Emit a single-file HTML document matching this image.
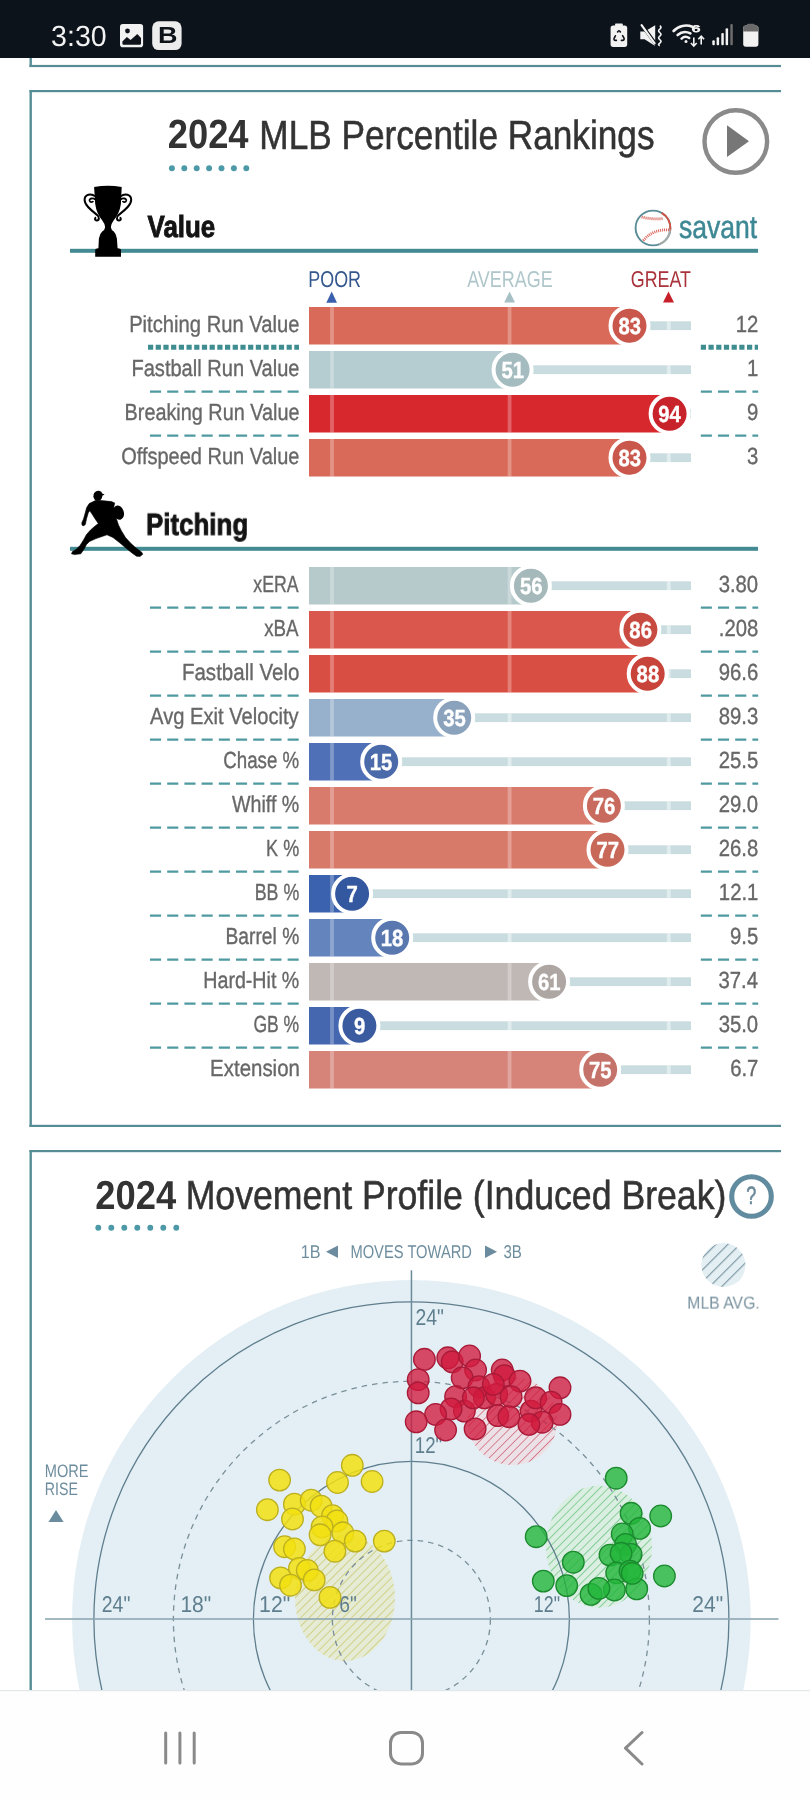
<!DOCTYPE html><html><head><meta charset="utf-8"><title>Percentile Rankings</title><style>html,body{margin:0;padding:0;background:#fff;width:810px;height:1800px;overflow:hidden}svg{position:absolute;left:0;top:0;display:block;text-rendering:geometricPrecision;will-change:transform}</style></head><body><svg width="810" height="1800" viewBox="0 0 810 1800" font-family="Liberation Sans, sans-serif"><rect x="0" y="0" width="810" height="58" fill="#0c131b"/>
<text transform="translate(51.11,45.70) scale(0.9813,1)" font-size="29.10" fill="#f2f2f2">3:30</text>
<rect x="120" y="23.9" width="23.1" height="23.3" rx="2.8" fill="#f2f2f2"/>
<circle cx="127.5" cy="31" r="2.4" fill="#0e131a"/>
<path d="M122.4,41.6 L126.9,37.1 L130.6,40.1 L137.3,34.1 L141,37.9 L141,43.4 Q141,44.7 139.8,44.7 L123.6,44.7 Q122.4,44.7 122.4,43.4 Z" fill="#0e131a"/>
<rect x="152.2" y="21.3" width="29.4" height="28.8" rx="6.5" fill="#ececec"/>
<text transform="translate(158.02,42.60) scale(1.1590,1)" font-size="23.30" fill="#0e131a" font-weight="bold">B</text>
<rect x="610.6" y="25.4" width="16.6" height="21.5" rx="2.6" fill="#f2f2f2"/>
<rect x="615" y="23.5" width="7.8" height="3" rx="1" fill="#f2f2f2"/>
<path d="M617.6,32 Q619,29.6 620.4,32 M622.6,35.6 L624,38 Q624.6,40.4 622.4,40.4 L621.4,40.4 M616.4,40.4 L615.6,40.4 Q613.4,40.4 614.2,38 L615.4,35.8" fill="none" stroke="#0e131a" stroke-width="1.6" stroke-linecap="round"/>
<path d="M640.3,31.4 L644.6,31.4 L655.2,25.2 L655.2,46.1 L644.6,39.2 L640.3,39.2 Z" fill="#f2f2f2"/>
<path d="M640.8,23.6 L657.6,46.5" stroke="#0e131a" stroke-width="3.4"/>
<path d="M641.6,25.2 L654.6,43.4" stroke="#f2f2f2" stroke-width="2.2" stroke-linecap="round"/>
<path d="M659.8,25.6 q2.4,1.7 0,3.5 q-2.4,1.7 0,3.5 q2.4,1.7 0,3.5 q-2.4,1.7 0,3.5 q2.4,1.7 0,3.5 q-2.4,1.7 0,2.5" fill="none" stroke="#f2f2f2" stroke-width="1.7"/>
<path d="M673.6,31 A17,17 0 0 1 692.4,26.8" fill="none" stroke="#f2f2f2" stroke-width="2.6" stroke-linecap="round"/>
<path d="M677.6,35 A11.5,11.5 0 0 1 690.4,33.4" fill="none" stroke="#f2f2f2" stroke-width="2.6" stroke-linecap="round"/>
<path d="M681.6,38.6 A6,6 0 0 1 689.2,38" fill="none" stroke="#f2f2f2" stroke-width="2.6" stroke-linecap="round"/>
<circle cx="686" cy="41.6" r="1.5" fill="#f2f2f2"/>
<text transform="translate(691.83,32.40) scale(1.5974,1)" font-size="9.60" fill="#f2f2f2" stroke="#f2f2f2" stroke-width="0.8">6</text>
<path d="M693.8,37.4 L693.8,45.8 M690.9,43 L693.8,46 L696.7,43" fill="none" stroke="#f2f2f2" stroke-width="1.6"/>
<path d="M701.2,44.4 L701.2,36.4 M698.3,39.2 L701.2,36.2 L704.1,39.2" fill="none" stroke="#f2f2f2" stroke-width="1.6"/>
<rect x="712.3" y="40.2" width="2.5" height="5.0" rx="1" fill="#f2f2f2"/>
<rect x="716.6" y="37.2" width="2.5" height="8.0" rx="1" fill="#f2f2f2"/>
<rect x="721.3" y="33" width="2.5" height="12.2" rx="1" fill="#f2f2f2"/>
<rect x="725.6" y="28.2" width="2.5" height="17.0" rx="1" fill="#f2f2f2"/>
<rect x="730.3" y="24" width="2.5" height="21.2" rx="1" fill="#6d6d6d"/>
<rect x="743.2" y="25.6" width="15.2" height="21.1" rx="2.6" fill="#f2f2f2"/>
<path d="M743.2,31.4 L743.2,28.2 Q743.2,25.6 745.8,25.6 L755.8,25.6 Q758.4,25.6 758.4,28.2 L758.4,31.4 Z" fill="#6a6a6a"/>
<rect x="747" y="23.8" width="7.6" height="2.4" rx="1" fill="#6a6a6a"/>
<rect x="29.5" y="58" width="2.4" height="9" fill="#568d95"/>
<rect x="29.5" y="64.9" width="751.5" height="2.2" fill="#568d95"/>
<rect x="29.5" y="90" width="751.5" height="2.2" fill="#568d95"/>
<rect x="29.5" y="90" width="2.4" height="1037" fill="#568d95"/>
<rect x="29.5" y="1124.8" width="751.5" height="2.2" fill="#568d95"/>
<rect x="29.5" y="1150" width="751.5" height="2.2" fill="#568d95"/>
<rect x="29.5" y="1150" width="2.4" height="560" fill="#568d95"/>
<text transform="translate(167.77,148.30) scale(0.8895,1)" font-size="40.80" fill="#333333" font-weight="bold">2024</text>
<text transform="translate(259.31,148.70) scale(0.8628,1)" font-size="40.80" fill="#333333" stroke="#333" stroke-width="0.55">MLB Percentile Rankings</text>
<circle cx="171.9" cy="168.2" r="2.95" fill="#4d99a8"/>
<circle cx="184.3" cy="168.2" r="2.95" fill="#4d99a8"/>
<circle cx="196.7" cy="168.2" r="2.95" fill="#4d99a8"/>
<circle cx="209.1" cy="168.2" r="2.95" fill="#4d99a8"/>
<circle cx="221.5" cy="168.2" r="2.95" fill="#4d99a8"/>
<circle cx="233.9" cy="168.2" r="2.95" fill="#4d99a8"/>
<circle cx="246.3" cy="168.2" r="2.95" fill="#4d99a8"/>
<circle cx="735.8" cy="141.5" r="31.3" fill="none" stroke="#8a8a8a" stroke-width="4.4"/>
<path d="M727,125.3 L749,141.2 L727,157 Z" fill="#777"/>
<rect x="70" y="248.8" width="688" height="4" fill="#438a92"/>
<path d="M94.1,187 Q108,184.6 121.7,187 L120.9,204 Q119.5,213.5 113.6,220.5 Q111.2,223.5 110.8,227.5 L105.2,227.5 Q104.8,223.5 102.3,220.5 Q96.5,213.5 95.2,204 Z" fill="#000"/>
<path d="M105.2,227 L110.8,227 Q111.2,230 113.8,231.6 Q116.4,234 116.9,238.5 L117.6,248.2 Q120.5,248.6 121,249.5 L121,256.7 L95.2,256.7 L95.2,249.5 Q95.6,248.6 98.4,248.2 L98.9,238.5 Q99.5,234 102.2,231.6 Q104.8,230 105.2,227 Z" fill="#000"/>
<path d="M95.2,196.2 C91.0,193 84.5,194.2 84.6,200 C84.8,205.5 91.5,210.5 97.2,215 C99.8,217.2 99.2,220.8 96.6,220.6 C94.6,220.4 94.4,218 96.2,217.6" fill="none" stroke="#000" stroke-width="2"/>
<path d="M95.3,199.5 C93.0,197.6 89.0,198.3 89.6,200.8 C90.2,202.6 92.6,202.4 93.2,201" fill="none" stroke="#000" stroke-width="1.8"/>
<path d="M120.6,196.2 C124.8,193 131.3,194.2 131.2,200 C131.0,205.5 124.3,210.5 118.6,215 C116.0,217.2 116.6,220.8 119.2,220.6 C121.2,220.4 121.4,218 119.6,217.6" fill="none" stroke="#000" stroke-width="2"/>
<path d="M120.5,199.5 C122.8,197.6 126.8,198.3 126.2,200.8 C125.6,202.6 123.2,202.4 122.6,201" fill="none" stroke="#000" stroke-width="1.8"/>
<text transform="translate(147.54,236.70) scale(0.8487,1)" font-size="30.50" fill="#141414" font-weight="bold" stroke="#141414" stroke-width="0.9">Value</text>
<circle cx="653" cy="228" r="17.4" fill="#fff" stroke="#5b8d97" stroke-width="1.9"/>
<path d="M661.7,212.9 A17.4,17.4 0 0 1 670.3,229.5" fill="none" stroke="#d2503f" stroke-width="2"/>
<path d="M670.3,229.5 A17.4,17.4 0 0 1 659,244.4" fill="none" stroke="#a6aaa9" stroke-width="2"/>
<path d="M641.6,217 Q652,219.6 662.6,218.6" fill="none" stroke="#dc6a62" stroke-width="2.8" stroke-dasharray="1.1,0.9"/>
<path d="M643.3,240.6 Q653,228.5 670.6,230" fill="none" stroke="#dc6a62" stroke-width="2.8" stroke-dasharray="1.1,0.9"/>
<text transform="translate(678.88,237.50) scale(0.8255,1)" font-size="32.20" fill="#3d8894" stroke="#3d8894" stroke-width="0.5">savant</text>
<text transform="translate(308.33,286.80) scale(0.7779,1)" font-size="23.00" fill="#34578e">POOR</text>
<text transform="translate(467.16,286.90) scale(0.7816,1)" font-size="23.00" fill="#afc6ca">AVERAGE</text>
<text transform="translate(630.81,286.90) scale(0.7765,1)" font-size="23.00" fill="#a9323b">GREAT</text>
<path d="M326.3,302.8 L337,302.8 L331.7,291.5 Z" fill="#3a5fae"/>
<path d="M504.2,302.6 L515,302.6 L509.6,291.5 Z" fill="#a6c0c6"/>
<path d="M663,302.6 L674,302.6 L668.5,291.5 Z" fill="#c8202a"/>
<rect x="309" y="307" width="320.5" height="37.5" fill="#d96958"/>
<rect x="629.5" y="321.3" width="61.5" height="8.8" fill="#c9dde0"/>
<rect x="330.1" y="307" width="3.8" height="37.5" fill="#fff" opacity="0.28"/>
<rect x="507.7" y="307" width="3.8" height="37.5" fill="#fff" opacity="0.28"/>
<rect x="666.9" y="321.3" width="3.8" height="8.8" fill="#fff" opacity="0.45"/>
<circle cx="629.5" cy="325.7" r="19" fill="#c9574c" stroke="#fff" stroke-width="4"/>
<text transform="translate(618.42,333.70) scale(0.8700,1)" font-size="23.30" fill="#fff" font-weight="bold" stroke="#fff" stroke-width="0.4">83</text>
<text transform="translate(129.14,331.50) scale(0.8672,1)" font-size="23.30" fill="#676767" stroke="#676767" stroke-width="0.35">Pitching Run Value</text>
<text transform="translate(735.82,331.50) scale(0.8720,1)" font-size="23.30" fill="#676767" stroke="#676767" stroke-width="0.35">12</text>
<line x1="148" y1="347.3" x2="299" y2="347.3" stroke="#3f8d90" stroke-width="5" stroke-dasharray="5.2,2.5"/>
<line x1="700.8" y1="347.3" x2="758" y2="347.3" stroke="#3f8d90" stroke-width="5" stroke-dasharray="5.2,2.5"/>
<rect x="309" y="351" width="203.6" height="37.5" fill="#b5cdd0"/>
<rect x="512.6" y="365.3" width="178.4" height="8.8" fill="#c9dde0"/>
<rect x="330.1" y="351" width="3.8" height="37.5" fill="#fff" opacity="0.28"/>
<rect x="507.7" y="351" width="3.8" height="37.5" fill="#fff" opacity="0.28"/>
<rect x="666.9" y="365.3" width="3.8" height="8.8" fill="#fff" opacity="0.45"/>
<circle cx="512.6" cy="369.7" r="19" fill="#a4bcc0" stroke="#fff" stroke-width="4"/>
<text transform="translate(501.55,377.70) scale(0.8700,1)" font-size="23.30" fill="#fff" font-weight="bold" stroke="#fff" stroke-width="0.4">51</text>
<text transform="translate(131.45,375.50) scale(0.8611,1)" font-size="23.30" fill="#676767" stroke="#676767" stroke-width="0.35">Fastball Run Value</text>
<text transform="translate(747.08,375.50) scale(0.8720,1)" font-size="23.30" fill="#676767" stroke="#676767" stroke-width="0.35">1</text>
<line x1="150" y1="391.6" x2="299" y2="391.6" stroke="#4f9aa0" stroke-width="2.4" stroke-dasharray="11.1,6.1"/>
<line x1="700.8" y1="391.6" x2="758.2" y2="391.6" stroke="#4f9aa0" stroke-width="2.4" stroke-dasharray="11.1,6.1"/>
<rect x="309" y="395" width="360.6" height="37.5" fill="#d6282d"/>
<rect x="669.6" y="409.3" width="21.4" height="8.8" fill="#c9dde0"/>
<rect x="330.1" y="395" width="3.8" height="37.5" fill="#fff" opacity="0.28"/>
<rect x="507.7" y="395" width="3.8" height="37.5" fill="#fff" opacity="0.28"/>
<rect x="666.9" y="395" width="3.8" height="37.5" fill="#fff" opacity="0.28"/>
<circle cx="669.6" cy="413.7" r="19" fill="#c8232a" stroke="#fff" stroke-width="4"/>
<text transform="translate(658.24,421.70) scale(0.8700,1)" font-size="23.30" fill="#fff" font-weight="bold" stroke="#fff" stroke-width="0.4">94</text>
<text transform="translate(124.57,419.50) scale(0.8511,1)" font-size="23.30" fill="#676767" stroke="#676767" stroke-width="0.35">Breaking Run Value</text>
<text transform="translate(747.06,419.50) scale(0.8720,1)" font-size="23.30" fill="#676767" stroke="#676767" stroke-width="0.35">9</text>
<line x1="150" y1="435.6" x2="299" y2="435.6" stroke="#4f9aa0" stroke-width="2.4" stroke-dasharray="11.1,6.1"/>
<line x1="700.8" y1="435.6" x2="758.2" y2="435.6" stroke="#4f9aa0" stroke-width="2.4" stroke-dasharray="11.1,6.1"/>
<rect x="309" y="439" width="320.5" height="37.5" fill="#d96958"/>
<rect x="629.5" y="453.3" width="61.5" height="8.8" fill="#c9dde0"/>
<rect x="330.1" y="439" width="3.8" height="37.5" fill="#fff" opacity="0.28"/>
<rect x="507.7" y="439" width="3.8" height="37.5" fill="#fff" opacity="0.28"/>
<rect x="666.9" y="453.3" width="3.8" height="8.8" fill="#fff" opacity="0.45"/>
<circle cx="629.5" cy="457.7" r="19" fill="#c9574c" stroke="#fff" stroke-width="4"/>
<text transform="translate(618.42,465.70) scale(0.8700,1)" font-size="23.30" fill="#fff" font-weight="bold" stroke="#fff" stroke-width="0.4">83</text>
<text transform="translate(121.16,463.50) scale(0.8587,1)" font-size="23.30" fill="#676767" stroke="#676767" stroke-width="0.35">Offspeed Run Value</text>
<text transform="translate(746.98,463.50) scale(0.8720,1)" font-size="23.30" fill="#676767" stroke="#676767" stroke-width="0.35">3</text>
<rect x="70" y="546.8" width="688" height="4" fill="#438a92"/>
<circle cx="97.8" cy="496.3" r="4.4" fill="#000"/>
<path d="M93.6,494.5 Q95,490.6 99,490.8 Q102,491.4 102.2,493.6 L104.6,494.6 L102.4,495.8 L94,495.5 Z" fill="#000"/>
<path d="M96,500.2 L89.2,503.6 L86.7,507.5 L85.2,513 L83.5,519 L81.8,522.8 L82,525.2 L84,525.8 L85.4,524.2 L86.6,518.5 L88.3,512.8 L89.8,510.8 L92,514 L95.5,519.5 L98.3,523.5 L94.5,526.5 L90.5,530 L86.5,534.5 L83.5,540 L80,545.5 L76,549.5 L72.5,551.5 L71.5,553.8 L74.5,554.6 L80.8,553.8 L83.8,549.5 L86.5,544.5 L89.5,541.5 L96,538.6 L102,536.5 L107,534.8 L113,537.5 L120,543 L126.5,548.5 L132,553 L136.5,556.2 L140,556.4 L142.8,554.2 L141.5,552 L136,548 L130.5,543 L125.5,537.5 L121.5,531 L118.5,525 L116.5,519 L114.5,512.5 L113.8,507 L114.7,503 L111.5,501.6 L101.5,500.6 Z" fill="#000" stroke="#000" stroke-width="0.6" stroke-linejoin="round"/>
<ellipse cx="118.6" cy="512.6" rx="5.2" ry="7.3" transform="rotate(-18 118.6 512.6)" fill="#000"/>
<text transform="translate(145.99,534.80) scale(0.8489,1)" font-size="30.50" fill="#141414" font-weight="bold" stroke="#141414" stroke-width="0.9">Pitching</text>
<rect x="309" y="567" width="221.9" height="37.5" fill="#b6cacb"/>
<rect x="530.9" y="581.3" width="160.1" height="8.8" fill="#c9dde0"/>
<rect x="330.1" y="567" width="3.8" height="37.5" fill="#fff" opacity="0.28"/>
<rect x="507.7" y="567" width="3.8" height="37.5" fill="#fff" opacity="0.28"/>
<rect x="666.9" y="581.3" width="3.8" height="8.8" fill="#fff" opacity="0.45"/>
<circle cx="530.9" cy="585.7" r="19" fill="#a5b8ba" stroke="#fff" stroke-width="4"/>
<text transform="translate(519.88,593.70) scale(0.8700,1)" font-size="23.30" fill="#fff" font-weight="bold" stroke="#fff" stroke-width="0.4">56</text>
<text transform="translate(253.30,591.50) scale(0.7612,1)" font-size="23.30" fill="#676767" stroke="#676767" stroke-width="0.35">xERA</text>
<text transform="translate(718.63,591.50) scale(0.8720,1)" font-size="23.30" fill="#676767" stroke="#676767" stroke-width="0.35">3.80</text>
<line x1="150" y1="607.6" x2="299" y2="607.6" stroke="#4f9aa0" stroke-width="2.4" stroke-dasharray="11.1,6.1"/>
<line x1="700.8" y1="607.6" x2="758.2" y2="607.6" stroke="#4f9aa0" stroke-width="2.4" stroke-dasharray="11.1,6.1"/>
<rect x="309" y="611" width="331.4" height="37.5" fill="#d9574c"/>
<rect x="640.4" y="625.3" width="50.6" height="8.8" fill="#c9dde0"/>
<rect x="330.1" y="611" width="3.8" height="37.5" fill="#fff" opacity="0.28"/>
<rect x="507.7" y="611" width="3.8" height="37.5" fill="#fff" opacity="0.28"/>
<rect x="666.9" y="625.3" width="3.8" height="8.8" fill="#fff" opacity="0.45"/>
<circle cx="640.4" cy="629.7" r="19" fill="#c84b42" stroke="#fff" stroke-width="4"/>
<text transform="translate(629.37,637.70) scale(0.8700,1)" font-size="23.30" fill="#fff" font-weight="bold" stroke="#fff" stroke-width="0.4">86</text>
<text transform="translate(264.19,635.50) scale(0.8060,1)" font-size="23.30" fill="#676767" stroke="#676767" stroke-width="0.35">xBA</text>
<text transform="translate(718.74,635.50) scale(0.8720,1)" font-size="23.30" fill="#676767" stroke="#676767" stroke-width="0.35">.208</text>
<line x1="150" y1="651.6" x2="299" y2="651.6" stroke="#4f9aa0" stroke-width="2.4" stroke-dasharray="11.1,6.1"/>
<line x1="700.8" y1="651.6" x2="758.2" y2="651.6" stroke="#4f9aa0" stroke-width="2.4" stroke-dasharray="11.1,6.1"/>
<rect x="309" y="655" width="338.7" height="37.5" fill="#d94e42"/>
<rect x="647.7" y="669.3" width="43.3" height="8.8" fill="#c9dde0"/>
<rect x="330.1" y="655" width="3.8" height="37.5" fill="#fff" opacity="0.28"/>
<rect x="507.7" y="655" width="3.8" height="37.5" fill="#fff" opacity="0.28"/>
<rect x="666.9" y="669.3" width="3.8" height="8.8" fill="#fff" opacity="0.45"/>
<circle cx="647.7" cy="673.7" r="19" fill="#c8443a" stroke="#fff" stroke-width="4"/>
<text transform="translate(636.62,681.70) scale(0.8700,1)" font-size="23.30" fill="#fff" font-weight="bold" stroke="#fff" stroke-width="0.4">88</text>
<text transform="translate(181.92,679.50) scale(0.8810,1)" font-size="23.30" fill="#676767" stroke="#676767" stroke-width="0.35">Fastball Velo</text>
<text transform="translate(718.74,679.50) scale(0.8720,1)" font-size="23.30" fill="#676767" stroke="#676767" stroke-width="0.35">96.6</text>
<line x1="150" y1="695.6" x2="299" y2="695.6" stroke="#4f9aa0" stroke-width="2.4" stroke-dasharray="11.1,6.1"/>
<line x1="700.8" y1="695.6" x2="758.2" y2="695.6" stroke="#4f9aa0" stroke-width="2.4" stroke-dasharray="11.1,6.1"/>
<rect x="309" y="699" width="145.2" height="37.5" fill="#97b0cb"/>
<rect x="454.2" y="713.3" width="236.8" height="8.8" fill="#c9dde0"/>
<rect x="330.1" y="699" width="3.8" height="37.5" fill="#fff" opacity="0.28"/>
<rect x="507.7" y="713.3" width="3.8" height="8.8" fill="#fff" opacity="0.45"/>
<rect x="666.9" y="713.3" width="3.8" height="8.8" fill="#fff" opacity="0.45"/>
<circle cx="454.2" cy="717.7" r="19" fill="#8aa2bb" stroke="#fff" stroke-width="4"/>
<text transform="translate(443.23,725.70) scale(0.8700,1)" font-size="23.30" fill="#fff" font-weight="bold" stroke="#fff" stroke-width="0.4">35</text>
<text transform="translate(150.06,723.50) scale(0.8648,1)" font-size="23.30" fill="#676767" stroke="#676767" stroke-width="0.35">Avg Exit Velocity</text>
<text transform="translate(718.74,723.50) scale(0.8720,1)" font-size="23.30" fill="#676767" stroke="#676767" stroke-width="0.35">89.3</text>
<line x1="150" y1="739.6" x2="299" y2="739.6" stroke="#4f9aa0" stroke-width="2.4" stroke-dasharray="11.1,6.1"/>
<line x1="700.8" y1="739.6" x2="758.2" y2="739.6" stroke="#4f9aa0" stroke-width="2.4" stroke-dasharray="11.1,6.1"/>
<rect x="309" y="743" width="72.2" height="37.5" fill="#4f70b6"/>
<rect x="381.2" y="757.3" width="309.8" height="8.8" fill="#c9dde0"/>
<rect x="330.1" y="743" width="3.8" height="37.5" fill="#fff" opacity="0.28"/>
<rect x="507.7" y="757.3" width="3.8" height="8.8" fill="#fff" opacity="0.45"/>
<rect x="666.9" y="757.3" width="3.8" height="8.8" fill="#fff" opacity="0.45"/>
<circle cx="381.2" cy="761.7" r="19" fill="#4a6aa9" stroke="#fff" stroke-width="4"/>
<text transform="translate(369.82,769.70) scale(0.8700,1)" font-size="23.30" fill="#fff" font-weight="bold" stroke="#fff" stroke-width="0.4">15</text>
<text transform="translate(223.26,767.50) scale(0.8039,1)" font-size="23.30" fill="#676767" stroke="#676767" stroke-width="0.35">Chase %</text>
<text transform="translate(718.69,767.50) scale(0.8720,1)" font-size="23.30" fill="#676767" stroke="#676767" stroke-width="0.35">25.5</text>
<line x1="150" y1="783.6" x2="299" y2="783.6" stroke="#4f9aa0" stroke-width="2.4" stroke-dasharray="11.1,6.1"/>
<line x1="700.8" y1="783.6" x2="758.2" y2="783.6" stroke="#4f9aa0" stroke-width="2.4" stroke-dasharray="11.1,6.1"/>
<rect x="309" y="787" width="294.9" height="37.5" fill="#d97b6c"/>
<rect x="603.9" y="801.3" width="87.1" height="8.8" fill="#c9dde0"/>
<rect x="330.1" y="787" width="3.8" height="37.5" fill="#fff" opacity="0.28"/>
<rect x="507.7" y="787" width="3.8" height="37.5" fill="#fff" opacity="0.28"/>
<rect x="666.9" y="801.3" width="3.8" height="8.8" fill="#fff" opacity="0.45"/>
<circle cx="603.9" cy="805.7" r="19" fill="#c86b5e" stroke="#fff" stroke-width="4"/>
<text transform="translate(592.76,813.70) scale(0.8700,1)" font-size="23.30" fill="#fff" font-weight="bold" stroke="#fff" stroke-width="0.4">76</text>
<text transform="translate(232.02,811.50) scale(0.8424,1)" font-size="23.30" fill="#676767" stroke="#676767" stroke-width="0.35">Whiff %</text>
<text transform="translate(718.63,811.50) scale(0.8720,1)" font-size="23.30" fill="#676767" stroke="#676767" stroke-width="0.35">29.0</text>
<line x1="150" y1="827.6" x2="299" y2="827.6" stroke="#4f9aa0" stroke-width="2.4" stroke-dasharray="11.1,6.1"/>
<line x1="700.8" y1="827.6" x2="758.2" y2="827.6" stroke="#4f9aa0" stroke-width="2.4" stroke-dasharray="11.1,6.1"/>
<rect x="309" y="831" width="298.5" height="37.5" fill="#d87a6a"/>
<rect x="607.5" y="845.3" width="83.5" height="8.8" fill="#c9dde0"/>
<rect x="330.1" y="831" width="3.8" height="37.5" fill="#fff" opacity="0.28"/>
<rect x="507.7" y="831" width="3.8" height="37.5" fill="#fff" opacity="0.28"/>
<rect x="666.9" y="845.3" width="3.8" height="8.8" fill="#fff" opacity="0.45"/>
<circle cx="607.5" cy="849.7" r="19" fill="#c86858" stroke="#fff" stroke-width="4"/>
<text transform="translate(596.49,857.70) scale(0.8700,1)" font-size="23.30" fill="#fff" font-weight="bold" stroke="#fff" stroke-width="0.4">77</text>
<text transform="translate(266.12,855.50) scale(0.7749,1)" font-size="23.30" fill="#676767" stroke="#676767" stroke-width="0.35">K %</text>
<text transform="translate(718.74,855.50) scale(0.8720,1)" font-size="23.30" fill="#676767" stroke="#676767" stroke-width="0.35">26.8</text>
<line x1="150" y1="871.6" x2="299" y2="871.6" stroke="#4f9aa0" stroke-width="2.4" stroke-dasharray="11.1,6.1"/>
<line x1="700.8" y1="871.6" x2="758.2" y2="871.6" stroke="#4f9aa0" stroke-width="2.4" stroke-dasharray="11.1,6.1"/>
<rect x="309" y="875" width="43.1" height="37.5" fill="#3a62ae"/>
<rect x="352.1" y="889.3" width="338.9" height="8.8" fill="#c9dde0"/>
<rect x="330.1" y="875" width="3.8" height="37.5" fill="#fff" opacity="0.28"/>
<rect x="507.7" y="889.3" width="3.8" height="8.8" fill="#fff" opacity="0.45"/>
<rect x="666.9" y="889.3" width="3.8" height="8.8" fill="#fff" opacity="0.45"/>
<circle cx="352.1" cy="893.7" r="19" fill="#34589f" stroke="#fff" stroke-width="4"/>
<text transform="translate(346.62,901.70) scale(0.8700,1)" font-size="23.30" fill="#fff" font-weight="bold" stroke="#fff" stroke-width="0.4">7</text>
<text transform="translate(254.74,899.50) scale(0.7633,1)" font-size="23.30" fill="#676767" stroke="#676767" stroke-width="0.35">BB %</text>
<text transform="translate(718.84,899.50) scale(0.8720,1)" font-size="23.30" fill="#676767" stroke="#676767" stroke-width="0.35">12.1</text>
<line x1="150" y1="915.6" x2="299" y2="915.6" stroke="#4f9aa0" stroke-width="2.4" stroke-dasharray="11.1,6.1"/>
<line x1="700.8" y1="915.6" x2="758.2" y2="915.6" stroke="#4f9aa0" stroke-width="2.4" stroke-dasharray="11.1,6.1"/>
<rect x="309" y="919" width="83.2" height="37.5" fill="#6484bd"/>
<rect x="392.2" y="933.3" width="298.8" height="8.8" fill="#c9dde0"/>
<rect x="330.1" y="919" width="3.8" height="37.5" fill="#fff" opacity="0.28"/>
<rect x="507.7" y="933.3" width="3.8" height="8.8" fill="#fff" opacity="0.45"/>
<rect x="666.9" y="933.3" width="3.8" height="8.8" fill="#fff" opacity="0.45"/>
<circle cx="392.2" cy="937.7" r="19" fill="#5a78b0" stroke="#fff" stroke-width="4"/>
<text transform="translate(380.80,945.70) scale(0.8700,1)" font-size="23.30" fill="#fff" font-weight="bold" stroke="#fff" stroke-width="0.4">18</text>
<text transform="translate(225.52,943.50) scale(0.8256,1)" font-size="23.30" fill="#676767" stroke="#676767" stroke-width="0.35">Barrel %</text>
<text transform="translate(729.99,943.50) scale(0.8720,1)" font-size="23.30" fill="#676767" stroke="#676767" stroke-width="0.35">9.5</text>
<line x1="150" y1="959.6" x2="299" y2="959.6" stroke="#4f9aa0" stroke-width="2.4" stroke-dasharray="11.1,6.1"/>
<line x1="700.8" y1="959.6" x2="758.2" y2="959.6" stroke="#4f9aa0" stroke-width="2.4" stroke-dasharray="11.1,6.1"/>
<rect x="309" y="963" width="240.1" height="37.5" fill="#c0b8b4"/>
<rect x="549.1" y="977.3" width="141.9" height="8.8" fill="#c9dde0"/>
<rect x="330.1" y="963" width="3.8" height="37.5" fill="#fff" opacity="0.28"/>
<rect x="507.7" y="963" width="3.8" height="37.5" fill="#fff" opacity="0.28"/>
<rect x="666.9" y="977.3" width="3.8" height="8.8" fill="#fff" opacity="0.45"/>
<circle cx="549.1" cy="981.7" r="19" fill="#aea6a3" stroke="#fff" stroke-width="4"/>
<text transform="translate(537.99,989.70) scale(0.8700,1)" font-size="23.30" fill="#fff" font-weight="bold" stroke="#fff" stroke-width="0.4">61</text>
<text transform="translate(203.29,987.50) scale(0.8425,1)" font-size="23.30" fill="#676767" stroke="#676767" stroke-width="0.35">Hard-Hit %</text>
<text transform="translate(718.45,987.50) scale(0.8720,1)" font-size="23.30" fill="#676767" stroke="#676767" stroke-width="0.35">37.4</text>
<line x1="150" y1="1003.6" x2="299" y2="1003.6" stroke="#4f9aa0" stroke-width="2.4" stroke-dasharray="11.1,6.1"/>
<line x1="700.8" y1="1003.6" x2="758.2" y2="1003.6" stroke="#4f9aa0" stroke-width="2.4" stroke-dasharray="11.1,6.1"/>
<rect x="309" y="1007" width="50.4" height="37.5" fill="#4467b0"/>
<rect x="359.4" y="1021.3" width="331.6" height="8.8" fill="#c9dde0"/>
<rect x="330.1" y="1007" width="3.8" height="37.5" fill="#fff" opacity="0.28"/>
<rect x="507.7" y="1021.3" width="3.8" height="8.8" fill="#fff" opacity="0.45"/>
<rect x="666.9" y="1021.3" width="3.8" height="8.8" fill="#fff" opacity="0.45"/>
<circle cx="359.4" cy="1025.7" r="19" fill="#3a5ba0" stroke="#fff" stroke-width="4"/>
<text transform="translate(353.93,1033.70) scale(0.8700,1)" font-size="23.30" fill="#fff" font-weight="bold" stroke="#fff" stroke-width="0.4">9</text>
<text transform="translate(253.42,1031.50) scale(0.7524,1)" font-size="23.30" fill="#676767" stroke="#676767" stroke-width="0.35">GB %</text>
<text transform="translate(718.63,1031.50) scale(0.8720,1)" font-size="23.30" fill="#676767" stroke="#676767" stroke-width="0.35">35.0</text>
<line x1="150" y1="1047.6" x2="299" y2="1047.6" stroke="#4f9aa0" stroke-width="2.4" stroke-dasharray="11.1,6.1"/>
<line x1="700.8" y1="1047.6" x2="758.2" y2="1047.6" stroke="#4f9aa0" stroke-width="2.4" stroke-dasharray="11.1,6.1"/>
<rect x="309" y="1051" width="291.2" height="37.5" fill="#d6837a"/>
<rect x="600.2" y="1065.3" width="90.8" height="8.8" fill="#c9dde0"/>
<rect x="330.1" y="1051" width="3.8" height="37.5" fill="#fff" opacity="0.28"/>
<rect x="507.7" y="1051" width="3.8" height="37.5" fill="#fff" opacity="0.28"/>
<rect x="666.9" y="1065.3" width="3.8" height="8.8" fill="#fff" opacity="0.45"/>
<circle cx="600.2" cy="1069.7" r="19" fill="#c5726a" stroke="#fff" stroke-width="4"/>
<text transform="translate(589.03,1077.70) scale(0.8700,1)" font-size="23.30" fill="#fff" font-weight="bold" stroke="#fff" stroke-width="0.4">75</text>
<text transform="translate(210.12,1075.50) scale(0.8776,1)" font-size="23.30" fill="#676767" stroke="#676767" stroke-width="0.35">Extension</text>
<text transform="translate(730.17,1075.50) scale(0.8720,1)" font-size="23.30" fill="#676767" stroke="#676767" stroke-width="0.35">6.7</text>
<text transform="translate(95.26,1209.10) scale(0.8973,1)" font-size="40.50" fill="#333333" font-weight="bold">2024</text>
<text transform="translate(185.68,1209.30) scale(0.8798,1)" font-size="40.50" fill="#333333" stroke="#333" stroke-width="0.55">Movement Profile (Induced Break)</text>
<circle cx="98.3" cy="1227.8" r="2.95" fill="#4d99a8"/>
<circle cx="111.3" cy="1227.8" r="2.95" fill="#4d99a8"/>
<circle cx="124.3" cy="1227.8" r="2.95" fill="#4d99a8"/>
<circle cx="137.3" cy="1227.8" r="2.95" fill="#4d99a8"/>
<circle cx="150.3" cy="1227.8" r="2.95" fill="#4d99a8"/>
<circle cx="163.3" cy="1227.8" r="2.95" fill="#4d99a8"/>
<circle cx="176.3" cy="1227.8" r="2.95" fill="#4d99a8"/>
<circle cx="751.5" cy="1196.5" r="19.8" fill="#fff" stroke="#618b9e" stroke-width="5.1"/>
<text transform="translate(746.26,1204.40) scale(0.7182,1)" font-size="25.00" fill="#6b8898" stroke="#6b8898" stroke-width="0.6">?</text>
<text transform="translate(300.67,1258.10) scale(0.8738,1)" font-size="18.50" fill="#6d8d9e">1B</text>
<path d="M326,1251.8 L338,1245.5 L338,1258.1 Z" fill="#6a8c9e"/>
<text transform="translate(350.39,1258.10) scale(0.7958,1)" font-size="18.50" fill="#6d8d9e">MOVES TOWARD</text>
<path d="M485,1245.5 L497,1251.8 L485,1258.1 Z" fill="#6a8c9e"/>
<text transform="translate(503.43,1258.10) scale(0.8158,1)" font-size="18.50" fill="#6d8d9e">3B</text>
<defs><pattern id="hr" patternUnits="userSpaceOnUse" width="6.2" height="6.2" patternTransform="rotate(45)"><rect width="6.2" height="6.2" fill="#eddfe4"/><line x1="0" y1="0" x2="0" y2="6.2" stroke="#cf5e73" stroke-width="1.6"/></pattern><pattern id="hg" patternUnits="userSpaceOnUse" width="6" height="6" patternTransform="rotate(45)"><rect width="6" height="6" fill="#d9eee0"/><line x1="0" y1="0" x2="0" y2="6" stroke="#5fbf74" stroke-width="1.5"/></pattern><pattern id="hy" patternUnits="userSpaceOnUse" width="6" height="6" patternTransform="rotate(45)"><rect width="6" height="6" fill="#e6ebd3"/><line x1="0" y1="0" x2="0" y2="6" stroke="#c6c45c" stroke-width="1.5"/></pattern><pattern id="hm" patternUnits="userSpaceOnUse" width="8.5" height="8.5" patternTransform="rotate(45)"><rect width="8.5" height="8.5" fill="#e4eff4"/><line x1="0" y1="0" x2="0" y2="8.5" stroke="#849eaa" stroke-width="2.4"/></pattern><clipPath id="chartclip"><rect x="32" y="1152" width="749" height="540"/></clipPath></defs>
<g clip-path="url(#chartclip)">
<circle cx="411.4" cy="1619.3" r="339.3" fill="#e3eff4"/>
<ellipse cx="512.5" cy="1421" rx="45" ry="44" fill="url(#hr)" opacity="0.9"/>
<ellipse cx="599" cy="1546.7" rx="53" ry="61" fill="url(#hg)" opacity="0.9"/>
<ellipse cx="345" cy="1598" rx="50" ry="63" fill="url(#hy)" opacity="0.9"/>
<circle cx="411.4" cy="1619.3" r="317.5" fill="none" stroke="#5f7e8e" stroke-width="1.3"/>
<circle cx="411.4" cy="1619.3" r="238" fill="none" stroke="#7a8f99" stroke-width="1.3" stroke-dasharray="5.5,5"/>
<circle cx="411.4" cy="1619.3" r="158" fill="none" stroke="#5f7e8e" stroke-width="1.3"/>
<circle cx="411.4" cy="1619.3" r="79" fill="none" stroke="#7a8f99" stroke-width="1.3" stroke-dasharray="5.5,5"/>
<rect x="410.7" y="1270.3" width="1.5" height="430" fill="#6a8a9a"/>
<rect x="45" y="1618.2" width="733.5" height="1.6" fill="#8ea7b2"/>
<text transform="translate(415.43,1324.50) scale(0.8485,1)" font-size="22.80" fill="#5f7f8f">24&quot;</text>
<text transform="translate(414.79,1452.60) scale(0.8161,1)" font-size="22.80" fill="#5f7f8f">12&quot;</text>
<text transform="translate(101.73,1612.00) scale(0.8549,1)" font-size="22.80" fill="#5f7f8f">24&quot;</text>
<text transform="translate(180.40,1612.00) scale(0.9234,1)" font-size="22.80" fill="#5f7f8f">18&quot;</text>
<text transform="translate(259.08,1612.00) scale(0.9331,1)" font-size="22.80" fill="#5f7f8f">12&quot;</text>
<text transform="translate(339.24,1612.00) scale(0.8461,1)" font-size="22.80" fill="#5f7f8f">6&quot;</text>
<text transform="translate(533.84,1612.00) scale(0.7836,1)" font-size="22.80" fill="#5f7f8f">12&quot;</text>
<text transform="translate(692.25,1612.00) scale(0.9219,1)" font-size="22.80" fill="#5f7f8f">24&quot;</text>
<circle cx="352.3" cy="1465.3" r="10.8" fill="#f2e010" fill-opacity="0.85" stroke="#bdb020" stroke-width="1.3"/>
<circle cx="279.6" cy="1480.1" r="10.8" fill="#f2e010" fill-opacity="0.85" stroke="#bdb020" stroke-width="1.3"/>
<circle cx="337.5" cy="1482.5" r="10.8" fill="#f2e010" fill-opacity="0.85" stroke="#bdb020" stroke-width="1.3"/>
<circle cx="372.1" cy="1481.5" r="10.8" fill="#f2e010" fill-opacity="0.85" stroke="#bdb020" stroke-width="1.3"/>
<circle cx="267.4" cy="1509.7" r="10.8" fill="#f2e010" fill-opacity="0.85" stroke="#bdb020" stroke-width="1.3"/>
<circle cx="294.4" cy="1504.2" r="10.8" fill="#f2e010" fill-opacity="0.85" stroke="#bdb020" stroke-width="1.3"/>
<circle cx="311.2" cy="1500.2" r="10.8" fill="#f2e010" fill-opacity="0.85" stroke="#bdb020" stroke-width="1.3"/>
<circle cx="321.1" cy="1506.2" r="10.8" fill="#f2e010" fill-opacity="0.85" stroke="#bdb020" stroke-width="1.3"/>
<circle cx="292.5" cy="1519" r="10.8" fill="#f2e010" fill-opacity="0.85" stroke="#bdb020" stroke-width="1.3"/>
<circle cx="332.6" cy="1515.7" r="10.8" fill="#f2e010" fill-opacity="0.85" stroke="#bdb020" stroke-width="1.3"/>
<circle cx="336.9" cy="1521" r="10.8" fill="#f2e010" fill-opacity="0.85" stroke="#bdb020" stroke-width="1.3"/>
<circle cx="322.1" cy="1526.9" r="10.8" fill="#f2e010" fill-opacity="0.85" stroke="#bdb020" stroke-width="1.3"/>
<circle cx="320.1" cy="1534.8" r="10.8" fill="#f2e010" fill-opacity="0.85" stroke="#bdb020" stroke-width="1.3"/>
<circle cx="342.8" cy="1532.8" r="10.8" fill="#f2e010" fill-opacity="0.85" stroke="#bdb020" stroke-width="1.3"/>
<circle cx="355.3" cy="1541.1" r="10.8" fill="#f2e010" fill-opacity="0.85" stroke="#bdb020" stroke-width="1.3"/>
<circle cx="384.3" cy="1541.1" r="10.8" fill="#f2e010" fill-opacity="0.85" stroke="#bdb020" stroke-width="1.3"/>
<circle cx="284.6" cy="1546.7" r="10.8" fill="#f2e010" fill-opacity="0.85" stroke="#bdb020" stroke-width="1.3"/>
<circle cx="294.4" cy="1549" r="10.8" fill="#f2e010" fill-opacity="0.85" stroke="#bdb020" stroke-width="1.3"/>
<circle cx="334.9" cy="1551.2" r="10.8" fill="#f2e010" fill-opacity="0.85" stroke="#bdb020" stroke-width="1.3"/>
<circle cx="299.4" cy="1568.4" r="10.8" fill="#f2e010" fill-opacity="0.85" stroke="#bdb020" stroke-width="1.3"/>
<circle cx="307.3" cy="1570.4" r="10.8" fill="#f2e010" fill-opacity="0.85" stroke="#bdb020" stroke-width="1.3"/>
<circle cx="280.6" cy="1577.9" r="10.8" fill="#f2e010" fill-opacity="0.85" stroke="#bdb020" stroke-width="1.3"/>
<circle cx="290.5" cy="1585.2" r="10.8" fill="#f2e010" fill-opacity="0.85" stroke="#bdb020" stroke-width="1.3"/>
<circle cx="314.2" cy="1579.9" r="10.8" fill="#f2e010" fill-opacity="0.85" stroke="#bdb020" stroke-width="1.3"/>
<circle cx="330" cy="1597.4" r="10.8" fill="#f2e010" fill-opacity="0.85" stroke="#bdb020" stroke-width="1.3"/>
<circle cx="424.4" cy="1359.3" r="10.8" fill="#d11a3e" fill-opacity="0.78" stroke="#a81a38" stroke-width="1.3"/>
<circle cx="447.8" cy="1357.8" r="10.8" fill="#d11a3e" fill-opacity="0.78" stroke="#a81a38" stroke-width="1.3"/>
<circle cx="452.2" cy="1361.8" r="10.8" fill="#d11a3e" fill-opacity="0.78" stroke="#a81a38" stroke-width="1.3"/>
<circle cx="469.6" cy="1356" r="10.8" fill="#d11a3e" fill-opacity="0.78" stroke="#a81a38" stroke-width="1.3"/>
<circle cx="475.6" cy="1370" r="10.8" fill="#d11a3e" fill-opacity="0.78" stroke="#a81a38" stroke-width="1.3"/>
<circle cx="418.2" cy="1379.6" r="10.8" fill="#d11a3e" fill-opacity="0.78" stroke="#a81a38" stroke-width="1.3"/>
<circle cx="418.2" cy="1392.9" r="10.8" fill="#d11a3e" fill-opacity="0.78" stroke="#a81a38" stroke-width="1.3"/>
<circle cx="462.2" cy="1377.8" r="10.8" fill="#d11a3e" fill-opacity="0.78" stroke="#a81a38" stroke-width="1.3"/>
<circle cx="502.2" cy="1370" r="10.8" fill="#d11a3e" fill-opacity="0.78" stroke="#a81a38" stroke-width="1.3"/>
<circle cx="504.4" cy="1375.6" r="10.8" fill="#d11a3e" fill-opacity="0.78" stroke="#a81a38" stroke-width="1.3"/>
<circle cx="520" cy="1381.1" r="10.8" fill="#d11a3e" fill-opacity="0.78" stroke="#a81a38" stroke-width="1.3"/>
<circle cx="560" cy="1387.8" r="10.8" fill="#d11a3e" fill-opacity="0.78" stroke="#a81a38" stroke-width="1.3"/>
<circle cx="455.6" cy="1396.7" r="10.8" fill="#d11a3e" fill-opacity="0.78" stroke="#a81a38" stroke-width="1.3"/>
<circle cx="478.9" cy="1386.7" r="10.8" fill="#d11a3e" fill-opacity="0.78" stroke="#a81a38" stroke-width="1.3"/>
<circle cx="484.4" cy="1397.8" r="10.8" fill="#d11a3e" fill-opacity="0.78" stroke="#a81a38" stroke-width="1.3"/>
<circle cx="496.7" cy="1394.4" r="10.8" fill="#d11a3e" fill-opacity="0.78" stroke="#a81a38" stroke-width="1.3"/>
<circle cx="511.1" cy="1396.7" r="10.8" fill="#d11a3e" fill-opacity="0.78" stroke="#a81a38" stroke-width="1.3"/>
<circle cx="464.4" cy="1411.1" r="10.8" fill="#d11a3e" fill-opacity="0.78" stroke="#a81a38" stroke-width="1.3"/>
<circle cx="451.1" cy="1408.9" r="10.8" fill="#d11a3e" fill-opacity="0.78" stroke="#a81a38" stroke-width="1.3"/>
<circle cx="435.6" cy="1414.4" r="10.8" fill="#d11a3e" fill-opacity="0.78" stroke="#a81a38" stroke-width="1.3"/>
<circle cx="416.2" cy="1421.8" r="10.8" fill="#d11a3e" fill-opacity="0.78" stroke="#a81a38" stroke-width="1.3"/>
<circle cx="445.6" cy="1430" r="10.8" fill="#d11a3e" fill-opacity="0.78" stroke="#a81a38" stroke-width="1.3"/>
<circle cx="475.1" cy="1428.9" r="10.8" fill="#d11a3e" fill-opacity="0.78" stroke="#a81a38" stroke-width="1.3"/>
<circle cx="497.8" cy="1415.6" r="10.8" fill="#d11a3e" fill-opacity="0.78" stroke="#a81a38" stroke-width="1.3"/>
<circle cx="508.9" cy="1416.7" r="10.8" fill="#d11a3e" fill-opacity="0.78" stroke="#a81a38" stroke-width="1.3"/>
<circle cx="531.1" cy="1411.1" r="10.8" fill="#d11a3e" fill-opacity="0.78" stroke="#a81a38" stroke-width="1.3"/>
<circle cx="535.6" cy="1397.8" r="10.8" fill="#d11a3e" fill-opacity="0.78" stroke="#a81a38" stroke-width="1.3"/>
<circle cx="551.1" cy="1402.2" r="10.8" fill="#d11a3e" fill-opacity="0.78" stroke="#a81a38" stroke-width="1.3"/>
<circle cx="560" cy="1414.4" r="10.8" fill="#d11a3e" fill-opacity="0.78" stroke="#a81a38" stroke-width="1.3"/>
<circle cx="542.2" cy="1422.2" r="10.8" fill="#d11a3e" fill-opacity="0.78" stroke="#a81a38" stroke-width="1.3"/>
<circle cx="528.9" cy="1424.4" r="10.8" fill="#d11a3e" fill-opacity="0.78" stroke="#a81a38" stroke-width="1.3"/>
<circle cx="493.3" cy="1384.4" r="10.8" fill="#d11a3e" fill-opacity="0.78" stroke="#a81a38" stroke-width="1.3"/>
<circle cx="473.3" cy="1397.8" r="10.8" fill="#d11a3e" fill-opacity="0.78" stroke="#a81a38" stroke-width="1.3"/>
<circle cx="616.2" cy="1478.2" r="10.8" fill="#22b53a" fill-opacity="0.8" stroke="#1b8a2e" stroke-width="1.3"/>
<circle cx="631.1" cy="1513.3" r="10.8" fill="#22b53a" fill-opacity="0.8" stroke="#1b8a2e" stroke-width="1.3"/>
<circle cx="660.7" cy="1516" r="10.8" fill="#22b53a" fill-opacity="0.8" stroke="#1b8a2e" stroke-width="1.3"/>
<circle cx="639.6" cy="1528.4" r="10.8" fill="#22b53a" fill-opacity="0.8" stroke="#1b8a2e" stroke-width="1.3"/>
<circle cx="536.2" cy="1536.7" r="10.8" fill="#22b53a" fill-opacity="0.8" stroke="#1b8a2e" stroke-width="1.3"/>
<circle cx="622.2" cy="1534" r="10.8" fill="#22b53a" fill-opacity="0.8" stroke="#1b8a2e" stroke-width="1.3"/>
<circle cx="625.6" cy="1544.4" r="10.8" fill="#22b53a" fill-opacity="0.8" stroke="#1b8a2e" stroke-width="1.3"/>
<circle cx="610" cy="1555.1" r="10.8" fill="#22b53a" fill-opacity="0.8" stroke="#1b8a2e" stroke-width="1.3"/>
<circle cx="631.1" cy="1554.4" r="10.8" fill="#22b53a" fill-opacity="0.8" stroke="#1b8a2e" stroke-width="1.3"/>
<circle cx="621.1" cy="1553.3" r="10.8" fill="#22b53a" fill-opacity="0.8" stroke="#1b8a2e" stroke-width="1.3"/>
<circle cx="573.3" cy="1562.2" r="10.8" fill="#22b53a" fill-opacity="0.8" stroke="#1b8a2e" stroke-width="1.3"/>
<circle cx="616.7" cy="1572.9" r="10.8" fill="#22b53a" fill-opacity="0.8" stroke="#1b8a2e" stroke-width="1.3"/>
<circle cx="630" cy="1571.1" r="10.8" fill="#22b53a" fill-opacity="0.8" stroke="#1b8a2e" stroke-width="1.3"/>
<circle cx="664.4" cy="1576" r="10.8" fill="#22b53a" fill-opacity="0.8" stroke="#1b8a2e" stroke-width="1.3"/>
<circle cx="543.3" cy="1581.1" r="10.8" fill="#22b53a" fill-opacity="0.8" stroke="#1b8a2e" stroke-width="1.3"/>
<circle cx="566.7" cy="1585.6" r="10.8" fill="#22b53a" fill-opacity="0.8" stroke="#1b8a2e" stroke-width="1.3"/>
<circle cx="614.4" cy="1590" r="10.8" fill="#22b53a" fill-opacity="0.8" stroke="#1b8a2e" stroke-width="1.3"/>
<circle cx="636.7" cy="1588.9" r="10.8" fill="#22b53a" fill-opacity="0.8" stroke="#1b8a2e" stroke-width="1.3"/>
<circle cx="591.1" cy="1594.4" r="10.8" fill="#22b53a" fill-opacity="0.8" stroke="#1b8a2e" stroke-width="1.3"/>
<circle cx="598.9" cy="1588.4" r="10.8" fill="#22b53a" fill-opacity="0.8" stroke="#1b8a2e" stroke-width="1.3"/>
<circle cx="632.2" cy="1573.3" r="10.8" fill="#22b53a" fill-opacity="0.8" stroke="#1b8a2e" stroke-width="1.3"/>
</g>
<circle cx="723.4" cy="1265" r="22" fill="url(#hm)"/>
<text transform="translate(687.21,1308.60) scale(0.9126,1)" font-size="17.30" fill="#7a93a0">MLB AVG.</text>
<text transform="translate(44.80,1477.20) scale(0.8113,1)" font-size="18.00" fill="#6d8d9e">MORE</text>
<text transform="translate(44.84,1495.00) scale(0.7868,1)" font-size="18.00" fill="#6d8d9e">RISE</text>
<path d="M48.5,1521.9 L63.6,1521.9 L56,1509.9 Z" fill="#6a8c9e"/>
<rect x="0" y="1690.6" width="810" height="109.4" fill="#fefefe"/>
<rect x="0" y="1690" width="810" height="1.2" fill="#e2e8ea"/>
<line x1="165.7" y1="1733" x2="165.7" y2="1763" stroke="#8a8a8a" stroke-width="3" stroke-linecap="round"/>
<line x1="179.9" y1="1733" x2="179.9" y2="1763" stroke="#8a8a8a" stroke-width="3" stroke-linecap="round"/>
<line x1="194.2" y1="1733" x2="194.2" y2="1763" stroke="#8a8a8a" stroke-width="3" stroke-linecap="round"/>
<rect x="390.5" y="1732.4" width="32" height="31.5" rx="10.5" fill="none" stroke="#8a8a8a" stroke-width="3"/>
<path d="M642,1732.5 L625.5,1748.2 L642,1764" fill="none" stroke="#8a8a8a" stroke-width="3" stroke-linecap="round" stroke-linejoin="round"/></svg></body></html>
